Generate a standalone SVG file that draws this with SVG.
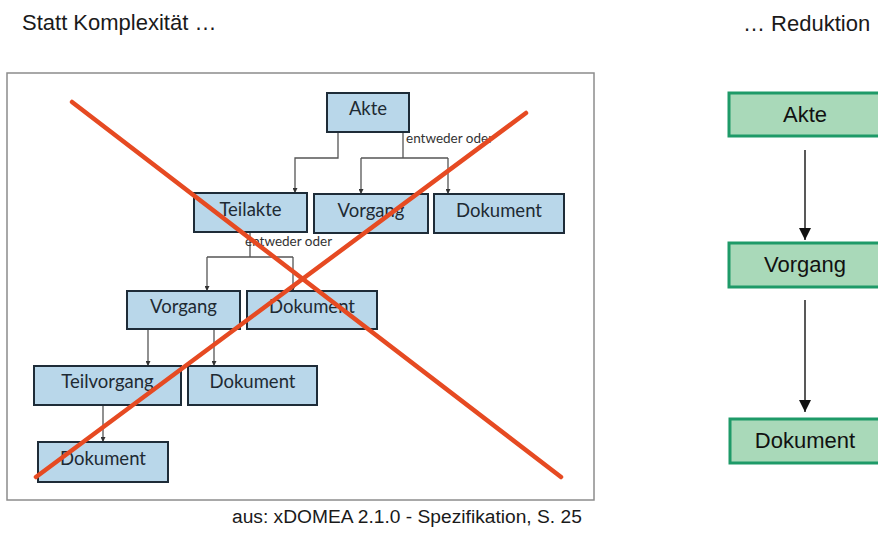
<svg xmlns="http://www.w3.org/2000/svg" width="878" height="534" viewBox="0 0 878 534">
  <style>
    .title { font-family: "Liberation Sans", Arial, sans-serif; font-size: 22px; fill: #1a1a1a; }
    .note { font-family: "Liberation Sans", Arial, sans-serif; font-size: 19.2px; fill: #1a1a1a; }
    .box { fill: #b9d7ea; stroke: #1e2c38; stroke-width: 2; }
    .lbl { font-family: Lato, "Open Sans", sans-serif; font-size: 18.5px; fill: #1e2a33; text-anchor: middle; }
    .or { font-family: Lato, "Open Sans", sans-serif; font-size: 13.5px; fill: #333; }
    .conn { fill: none; stroke: #555; stroke-width: 1.3; }
    .gbox { fill: #a9d9b9; stroke: #1e9a68; stroke-width: 3; }
    .glbl { font-family: "Liberation Sans", Arial, sans-serif; font-size: 22px; fill: #111; text-anchor: middle; }
    .garrow { fill: none; stroke: #222; stroke-width: 1.5; }
    .cross { stroke: #e64a22; stroke-width: 4.5; stroke-linecap: round; }
  </style>
  <defs>
    <marker id="tip" viewBox="0 0 6 6" refX="6" refY="3" markerWidth="5" markerHeight="5" markerUnits="userSpaceOnUse" orient="auto">
      <path d="M0 0 L6 3 L0 6 Z" fill="#333"/>
    </marker>
    <marker id="bigtip" viewBox="0 0 12 12" refX="12" refY="6" markerWidth="12" markerHeight="12" markerUnits="userSpaceOnUse" orient="auto">
      <path d="M0 0 L12 6 L0 12 Z" fill="#111"/>
    </marker>
  </defs>

  <rect width="878" height="534" fill="#ffffff"/>

  <!-- headings -->
  <text class="title" x="22" y="30">Statt Komplexität …</text>
  <text class="title" x="743" y="31">… Reduktion</text>

  <!-- left frame -->
  <rect x="7" y="73" width="587" height="427" fill="#ffffff" stroke="#8c8c8c" stroke-width="1.5"/>

  <!-- connectors of the nested model -->
  <g id="connectors">
    <path class="conn" d="M338 132 V158 H295 V193" marker-end="url(#tip)"/>
    <path class="conn" d="M403 132 V158"/>
    <path class="conn" d="M361 158 H448"/>
    <path class="conn" d="M361 158 V194" marker-end="url(#tip)"/>
    <path class="conn" d="M448 158 V194" marker-end="url(#tip)"/>
    <path class="conn" d="M250 232 V257"/>
    <path class="conn" d="M207 257 H293"/>
    <path class="conn" d="M207 257 V291" marker-end="url(#tip)"/>
    <path class="conn" d="M293 257 V291" marker-end="url(#tip)"/>
    <path class="conn" d="M148 329 V366" marker-end="url(#tip)"/>
    <path class="conn" d="M214 329 V366" marker-end="url(#tip)"/>
    <path class="conn" d="M103 405 V442" marker-end="url(#tip)"/>
    <text class="or" x="406" y="143">entweder oder</text>
    <text class="or" x="245" y="246">entweder oder</text>
  </g>

  <!-- nodes of the nested model -->
  <g id="akte"><rect class="box" x="327" y="93" width="82" height="39"/><text class="lbl" x="368" y="115">Akte</text></g>
  <g id="teilakte"><rect class="box" x="194" y="193" width="113" height="39"/><text class="lbl" x="250.5" y="216">Teilakte</text></g>
  <g id="vorgang1"><rect class="box" x="314" y="194" width="114" height="39"/><text class="lbl" x="371" y="217">Vorgang</text></g>
  <g id="dokument1"><rect class="box" x="434" y="194" width="130" height="39"/><text class="lbl" x="499" y="217">Dokument</text></g>
  <g id="vorgang2"><rect class="box" x="127" y="291" width="113" height="38"/><text class="lbl" x="183.5" y="313">Vorgang</text></g>
  <g id="dokument2"><rect class="box" x="247" y="291" width="130" height="38"/><text class="lbl" x="312" y="313">Dokument</text></g>
  <g id="teilvorgang"><rect class="box" x="34" y="366" width="147" height="39"/><text class="lbl" x="107.5" y="388">Teilvorgang</text></g>
  <g id="dokument3"><rect class="box" x="188" y="366" width="129" height="39"/><text class="lbl" x="252.5" y="388">Dokument</text></g>
  <g id="dokument4"><rect class="box" x="38" y="442" width="130" height="40"/><text class="lbl" x="103" y="465">Dokument</text></g>

  <!-- strike-through cross -->
  <line class="cross" x1="72" y1="102" x2="561" y2="477"/>
  <line class="cross" x1="36" y1="477" x2="526" y2="113"/>

  <text class="note" x="232" y="523">aus: xDOMEA 2.1.0 - Spezifikation, S. 25</text>

  <!-- reduced model -->
  <g id="r-connectors">
    <path class="garrow" d="M805 150 V240" marker-end="url(#bigtip)"/>
    <path class="garrow" d="M805 300 V412" marker-end="url(#bigtip)"/>
  </g>
  <g id="r-akte"><rect class="gbox" x="729" y="93" width="152" height="43"/><text class="glbl" x="805" y="122">Akte</text></g>
  <g id="r-vorgang"><rect class="gbox" x="729" y="243" width="152" height="44"/><text class="glbl" x="805" y="272">Vorgang</text></g>
  <g id="r-dokument"><rect class="gbox" x="730" y="419" width="152" height="44"/><text class="glbl" x="805" y="448">Dokument</text></g>
</svg>
